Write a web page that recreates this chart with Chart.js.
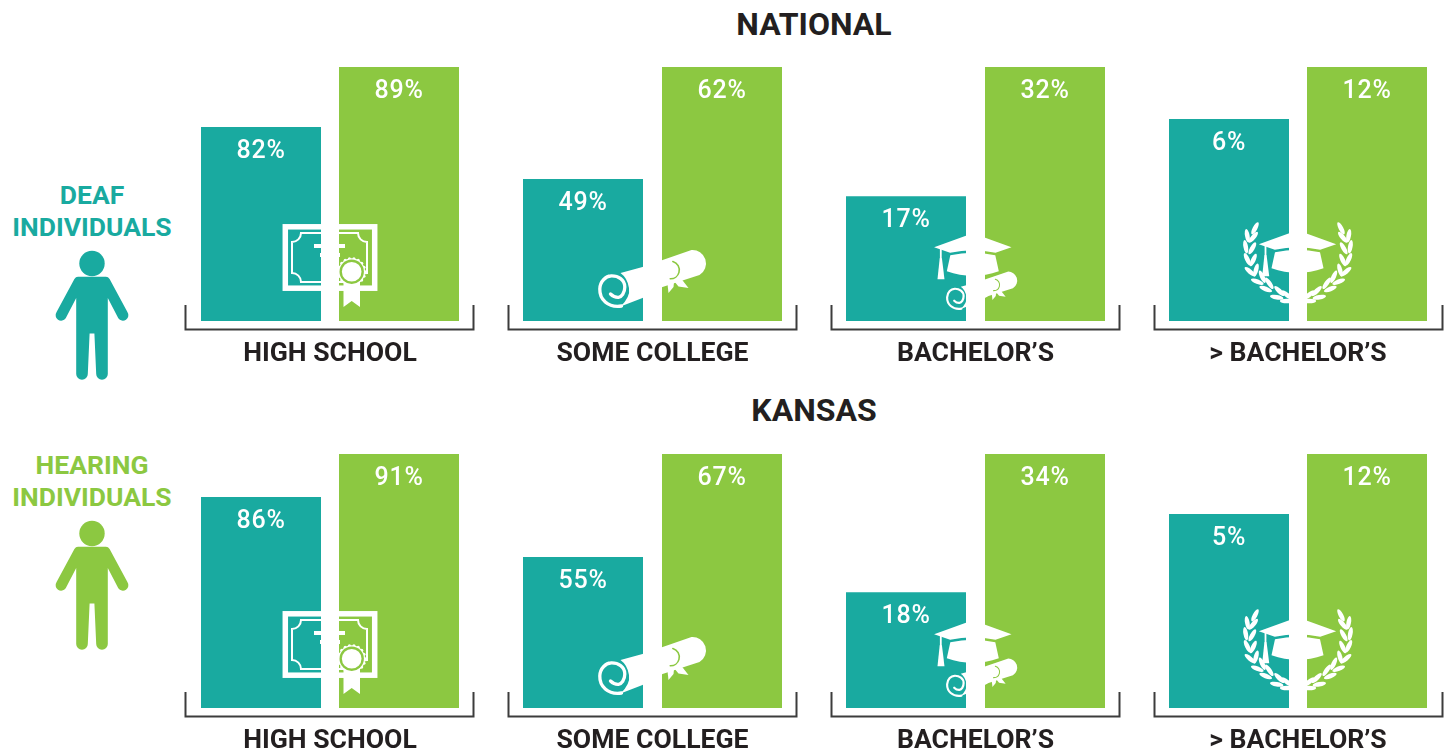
<!DOCTYPE html>
<html>
<head>
<meta charset="utf-8">
<title>Educational attainment</title>
<script src="https://cdn.jsdelivr.net/npm/chart.js@4"></script>
<style>
    html, body { margin: 0; background: #fff; overflow: hidden; }
    #page { position: relative; width: 1448px; height: 751px; font-family: Roboto, sans-serif; font-weight: 700; }
    #page canvas { position: absolute; }
    .title, .who { position: absolute; line-height: 32px; text-align: center; white-space: nowrap; transform: translateX(-50%); }
    .title { left: 814px; font-size: 32px; color: #231f20; }
    .who { left: 92px; font-size: 26.5px; }
    .person { position: absolute; left: 50px; width: 84px; height: 132px; }
</style>
</head>
<body>
<div id="page">
    <div class="title" style="top:8px">NATIONAL</div>
    <div class="title" style="top:394px">KANSAS</div>
    <div class="who" style="top:179px;color:#19aaa0">DEAF<br>INDIVIDUALS</div>
    <div class="who" style="top:449px;color:#8cc841">HEARING<br>INDIVIDUALS</div>
    <svg class="person" style="top:250px" viewBox="50 250 84 132"><use href="#man" fill="#19aaa0"/></svg>
    <svg class="person" style="top:520px" viewBox="50 250 84 132"><use href="#man" fill="#8cc841"/></svg>
    <svg width="0" height="0" style="position:absolute">
        <defs><g id="man">
            <circle cx="92" cy="263.5" r="12.7"/>
            <path d="M78 276.7H106Q108.2 276.7 109.6 279L127.4 312A5.4 5.4 0 0 1 118.3 318.3L107.8 298V374A5.8 5.8 0 0 1 96.2 374L94.4 333.5H89.6L87.8 374A5.8 5.8 0 0 1 76.2 374V298L65.7 318.3A5.4 5.4 0 0 1 56.6 312L74.4 279Q75.8 276.7 78 276.7Z"/>
        </g></defs>
    </svg>
</div>
<script>
const categories = ['HIGH SCHOOL', 'SOME COLLEGE', 'BACHELOR’S', '> BACHELOR’S'];
const nationalDeaf = [82, 49, 17, 6];
const nationalHearing = [89, 62, 32, 12];
const kansasDeaf = [86, 55, 18, 5];
const kansasHearing = [91, 67, 34, 12];
// the bars in the picture are not drawn from zero, each panel has its own floor
const nationalFloor = [59.4, 32.5, 2.5, -17.3];
const kansasFloor = [61.5, 37.4, 4.6, -17.6];

const TEAL = '#19aaa0';
const GREEN = '#8cc841';
const WHITE = '#ffffff';

function sealDots(ctx, x, y, r) {
    for (let i = 0; i < 18; i++) {
        const a = i / 18 * Math.PI * 2;
        ctx.beginPath();
        ctx.arc(x + Math.cos(a) * r, y + Math.sin(a) * r, 1.6, 0, Math.PI * 2);
        ctx.fill();
    }
}

function drawDiploma(ctx) {
    ctx.lineWidth = 5.5;
    ctx.strokeRect(-44.7, -94.2, 89.4, 61.4);
    ctx.lineWidth = 2;
    ctx.stroke(new Path2D('M-29 -88H28A9 9 0 0 0 37 -79V-48A9 9 0 0 0 28 -39H-29A9 9 0 0 0 -38 -48V-79A9 9 0 0 0 -29 -88Z'));
    ctx.fillRect(-16, -77, 31, 4);
    ctx.fillRect(-10, -68, 20, 4);
    // ribbon and seal
    ctx.fill(new Path2D('M13.5 -40H30V-14L21.7 -20L13.5 -14Z'));
    ctx.beginPath();
    ctx.arc(21.7, -49.3, 13.4, 0, Math.PI * 2);
    ctx.fill();
    sealDots(ctx, 21.7, -49.3, 13);
    ctx.fillStyle = GREEN;
    ctx.beginPath();
    ctx.arc(21.7, -49.3, 12.2, 0, Math.PI * 2);
    ctx.fill();
    ctx.fillStyle = WHITE;
    ctx.beginPath();
    ctx.arc(21.7, -49.3, 9.8, 0, Math.PI * 2);
    ctx.fill();
}

function drawScroll(ctx) {
    ctx.fill(new Path2D('M-32 -48L-10 -54L39 -71A13.5 13.5 0 0 1 47 -46L10 -34L-10 -23L-32 -14.5Q-22 -24 -23.5 -33Q-25 -43 -32 -48Z'));
    // the rolled end is one white line curling inwards
    ctx.lineWidth = 3.3;
    ctx.lineCap = 'round';
    ctx.stroke(new Path2D('M-31 -15C-45 -13 -53 -22 -52.7 -32C-52.5 -40 -46 -45 -42 -45C-34 -45.5 -27.7 -41 -27.7 -34C-27.7 -28 -31 -24 -34 -23.7C-37 -23.5 -40 -25 -42 -27'));
    // seal and its two ribbon tails
    ctx.fill(new Path2D('M14 -46L16 -28L21 -34L22 -44Z'));
    ctx.fill(new Path2D('M19 -43L26 -34.5L36 -33L25 -47Z'));
    ctx.strokeStyle = GREEN;
    ctx.lineWidth = 1.6;
    ctx.beginPath();
    ctx.arc(18, -51, 8.8, -1.3, 1.6);
    ctx.stroke();
    ctx.beginPath();
    ctx.arc(18, -51, 7.2, 0, Math.PI * 2);
    ctx.fill();
}

function drawCap(ctx, x, y) {
    ctx.save();
    ctx.translate(x, y);
    ctx.fill(new Path2D('M-38.7 0l38.7 -14l38.7 14l-16 5.5q-22.7 -5 -45.4 0Z'));
    ctx.fill(new Path2D('M-22.5 8q22.5 -5 45 0l3.5 16q-26 9 -52 0Z'));
    ctx.fillRect(-32.9, 1, 1.8, 11);
    ctx.fill(new Path2D('M-33.1 11h2.2l2.6 21h-7Z'));
    ctx.restore();
}

// x, y, tilt of each leaf on the left branch, mirrored for the right one
const leaves = [
    [-43, -92.7, -62], [-50.7, -85.3, 80], [-44.7, -83.7, -50], [-52.3, -74.3, 80], [-45.7, -72.7, -60],
    [-50.7, -61.7, 65], [-44.7, -61, -65], [-48, -49.3, 40], [-42, -51, -75], [-40.7, -39.3, 22],
    [-35.7, -44.3, 65], [-32.3, -32, 22], [-28.7, -37.7, 55], [-21.3, -23.7, 10], [-18.7, -30, 45],
    [-11.3, -20, 0], [-11, -26, 40]
];

function drawLaurel(ctx) {
    for (const side of [-1, 1]) {
        for (const leaf of leaves) {
            ctx.beginPath();
            ctx.ellipse(leaf[0] * side, leaf[1], 6.8, 2.3, leaf[2] * side * Math.PI / 180, 0, Math.PI * 2);
            ctx.fill();
        }
    }
}

const iconDrawers = [
    ctx => drawDiploma(ctx),
    ctx => drawScroll(ctx),
    ctx => {
        ctx.save();
        ctx.translate(6.4, -2.5);
        ctx.scale(0.66, 0.66);
        drawScroll(ctx);
        ctx.restore();
        drawCap(ctx, -2.7, -73.7);
    },
    ctx => {
        drawLaurel(ctx);
        drawCap(ctx, -0.5, -76.7);
    }
];

const panelPlugin = {
    id: 'panelPlugin',
    afterDatasetsDraw(chart, args, opts) {
        const ctx = chart.ctx;
        const area = chart.chartArea;
        const mid = (area.left + area.right) / 2;

        ctx.save();
        ctx.translate(mid, area.bottom);
        ctx.fillStyle = WHITE;
        ctx.strokeStyle = WHITE;
        iconDrawers[opts.index](ctx);
        ctx.restore();

        // value labels inside the top of each bar
        ctx.save();
        ctx.fillStyle = WHITE;
        ctx.font = '500 25px Roboto';
        ctx.letterSpacing = '0.8px';
        ctx.textAlign = 'center';
        ctx.textBaseline = 'middle';
        chart.data.datasets.forEach((ds, i) => {
            const bar = chart.getDatasetMeta(i).data[0];
            ctx.fillText(ds.data[0] + '%', bar.x, bar.y + 25);
        });
        ctx.restore();

        // bracket under the pair of bars
        const left = opts.bracketLeft;
        ctx.save();
        ctx.strokeStyle = '#3c3c3c';
        ctx.lineWidth = 2;
        ctx.beginPath();
        ctx.moveTo(left, area.bottom - 16);
        ctx.lineTo(left, area.bottom + 8.5);
        ctx.lineTo(left + 288, area.bottom + 8.5);
        ctx.lineTo(left + 288, area.bottom - 16);
        ctx.stroke();
        ctx.restore();
    }
};

const panelLefts = [176, 499, 822, 1144];
const panelPadLeft = [16, 14.5, 14.5, 16];
const panelWidths = [276, 278, 278, 276];

function makePanel(page, top, i, deaf, hearing, floor) {
    const canvas = document.createElement('canvas');
    canvas.style.left = panelLefts[i] + 'px';
    canvas.style.top = top + 'px';
    canvas.width = 308;
    canvas.height = 304;
    page.appendChild(canvas);

    return new Chart(canvas, {
        type: 'bar',
        data: {
            labels: [categories[i]],
            datasets: [
                { label: 'Deaf individuals', data: [deaf[i]], backgroundColor: TEAL, base: floor[i] },
                { label: 'Hearing individuals', data: [hearing[i]], backgroundColor: GREEN, base: floor[i] }
            ]
        },
        options: {
            responsive: false,
            animation: false,
            events: [],
            categoryPercentage: 1,
            barPercentage: 240 / panelWidths[i],
            layout: {
                padding: {
                    left: panelPadLeft[i],
                    right: 308 - panelPadLeft[i] - panelWidths[i],
                    top: 7,
                    bottom: 0
                }
            },
            plugins: {
                legend: { display: false },
                tooltip: { enabled: false },
                panelPlugin: { index: i, bracketLeft: 9.5 + 323 * i - panelLefts[i] + 176 }
            },
            scales: {
                y: { display: false, min: floor[i], max: hearing[i] },
                x: {
                    grid: { display: false },
                    border: { display: false },
                    afterFit: scale => { scale.height = 43; },
                    ticks: {
                        color: '#231f20',
                        padding: 9,
                        maxRotation: 0,
                        font: { family: 'Roboto', size: 26.6, weight: '700' }
                    }
                }
            }
        },
        plugins: [panelPlugin]
    });
}

const page = document.getElementById('page');
categories.forEach((c, i) => {
    makePanel(page, 60, i, nationalDeaf, nationalHearing, nationalFloor);
    makePanel(page, 447, i, kansasDeaf, kansasHearing, kansasFloor);
});
</script>
</body>
</html>
